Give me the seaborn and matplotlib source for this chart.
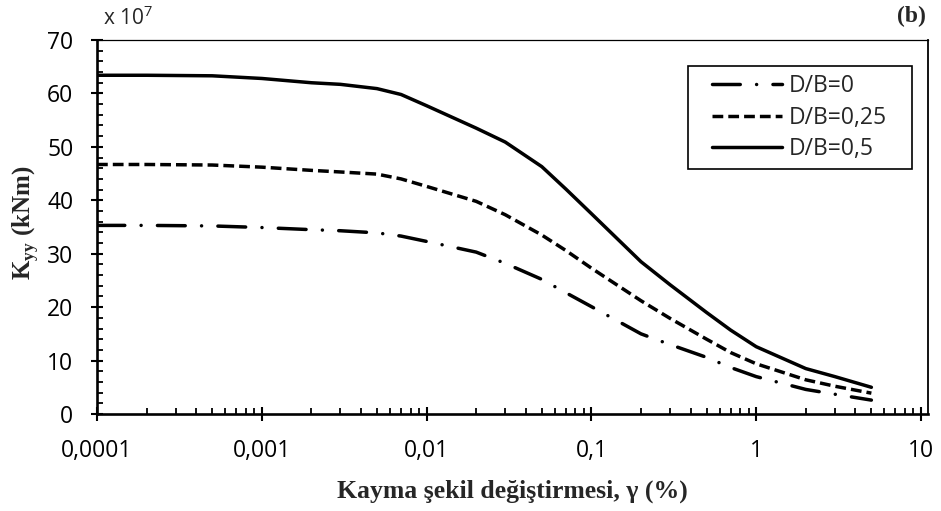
import numpy as np
import pandas as pd
import matplotlib
matplotlib.use('Agg')
import matplotlib.pyplot as plt
import seaborn as sns
from matplotlib.ticker import FixedLocator, FixedFormatter, MultipleLocator, LogLocator, NullFormatter
from matplotlib.lines import Line2D
from matplotlib.legend_handler import HandlerLine2D

# shear strain (%) and K_yy (x 10^7 kNm)
strain = [0.0001, 0.0002, 0.0005, 0.001, 0.002, 0.003, 0.005, 0.007, 0.01, 0.02, 0.03, 0.05,
          0.07, 0.1, 0.2, 0.3, 0.5, 0.7, 1, 2, 3, 5]
k_db0 = [35.3, 35.3, 35.2, 34.9, 34.5, 34.3, 33.9, 33.3, 32.3, 30.3, 28.2, 25.2,
         22.7, 20.1, 15.0, 13.0, 10.6, 8.7, 7.0, 4.6, 3.7, 2.6]
k_db025 = [46.7, 46.7, 46.6, 46.2, 45.6, 45.3, 44.9, 44.0, 42.6, 39.8, 37.3, 33.5,
           30.6, 27.3, 21.2, 17.9, 14.0, 11.5, 9.4, 6.4, 5.2, 3.9]
k_db05 = [63.4, 63.4, 63.3, 62.8, 62.0, 61.7, 60.9, 59.8, 57.7, 53.5, 50.9, 46.3,
          42.1, 37.5, 28.5, 24.2, 19.0, 15.7, 12.6, 8.5, 7.0, 5.0]
series_names = ['D/B=0', 'D/B=0,25', 'D/B=0,5']

xtick_vals = [0.0001, 0.001, 0.01, 0.1, 1, 10]
xtick_labels = ['0,0001', '0,001', '0,01', '0,1', '1', '10']
ytick_vals = [0, 10, 20, 30, 40, 50, 60, 70]

df = pd.DataFrame({
    'gamma': strain * 3,
    'K': k_db0 + k_db025 + k_db05,
    'series': np.repeat(series_names, len(strain)),
})

sns.set_style('white')
plt.rcParams['font.family'] = ['Open Sans', 'DejaVu Sans']
plt.rcParams['mathtext.fontset'] = 'custom'
plt.rcParams['mathtext.rm'] = 'Liberation Serif'
plt.rcParams['mathtext.bf'] = 'Liberation Serif:bold'
plt.rcParams['mathtext.sf'] = 'Open Sans'

W, H = 941, 511
fig = plt.figure(figsize=(W / 100, H / 100), dpi=100)
ax = fig.add_axes([97 / W, 1 - 414 / H, (928 - 97) / W, (414 - 40) / H])
ax.set_xscale('log')

lw = 2.5
line_dashes = {'D/B=0': (8.0, 4.7, 0.01, 4.7), 'D/B=0,25': (3.1, 1.45), 'D/B=0,5': ''}
sns.lineplot(data=df, x='gamma', y='K', hue='series', style='series',
             hue_order=series_names, style_order=series_names,
             palette=['black'] * 3, dashes=line_dashes, linewidth=lw,
             legend=False, ax=ax)
ax.lines[0].set_dash_capstyle('round')

ax.set_xlim(0.0001, 11.03)
ax.set_ylim(0, 70)
ax.xaxis.set_major_locator(FixedLocator(xtick_vals))
ax.xaxis.set_major_formatter(FixedFormatter(xtick_labels))
ax.xaxis.set_minor_locator(LogLocator(base=10, subs=np.arange(2, 10)))
ax.xaxis.set_minor_formatter(NullFormatter())
ax.yaxis.set_major_locator(FixedLocator(ytick_vals))
ax.yaxis.set_minor_locator(MultipleLocator(2))
ax.set_xlabel('')
ax.set_ylabel('')

fs = 16.5
ax.tick_params(axis='x', which='major', direction='inout', length=10, width=1.5, pad=13, labelsize=fs, color='black', labelcolor='black')
ax.tick_params(axis='y', which='major', direction='inout', length=8, width=1.5, pad=13, labelsize=fs, color='black', labelcolor='black')
ax.tick_params(axis='both', which='minor', direction='in', length=4.3, width=1.3, color='black')
ax.tick_params(bottom=True, left=True, which='both')

for side in ['left', 'bottom']:
    ax.spines[side].set_linewidth(1.9)
    ax.spines[side].set_color('black')
ax.spines['right'].set_linewidth(1.3)
ax.spines['right'].set_color('black')
ax.spines['top'].set_linewidth(0.9)
ax.spines['top'].set_color('black')

handles = [Line2D([], [], color='black', lw=lw, dashes=line_dashes[n]) for n in series_names[:2]]
handles.append(Line2D([], [], color='black', lw=lw, linestyle='-'))
handles[0].set_dash_capstyle('round')
leg = ax.legend(handles, series_names, loc='upper left',
                bbox_to_anchor=(688 / W, 1 - 159 / H, 224 / W, 93 / H),
                bbox_transform=fig.transFigure, mode='expand', borderaxespad=0,
                fontsize=fs, handlelength=3.75, handletextpad=0.3,
                labelspacing=0.33, borderpad=0.35, frameon=True, fancybox=False,
                framealpha=1, edgecolor='black',
                handler_map={Line2D: HandlerLine2D(xpad=0.7)})
leg.get_frame().set_linewidth(1.2)

fig.text(0.544, 1 - 491 / H, 'Kayma şekil değiştirmesi, γ (%)', ha='center', va='center',
         family='Liberation Serif', weight='bold', fontsize=18.5)
fig.text(26 / W, 1 - 223 / H, r'$\mathbf{K}_{\mathbf{yy}}$ (kNm)', ha='center', va='center',
         rotation=90, family='Liberation Serif', weight='bold', fontsize=18)
fig.text(103 / W, 1 - 25 / H, r'x 10$^{\mathsf{7}}$', ha='left', va='baseline', fontsize=15)
fig.text(926 / W, 1 - 6 / H, '(b)', ha='right', va='top',
         family='Liberation Serif', weight='bold', fontsize=17)

fig.savefig('out.png', dpi=100)
